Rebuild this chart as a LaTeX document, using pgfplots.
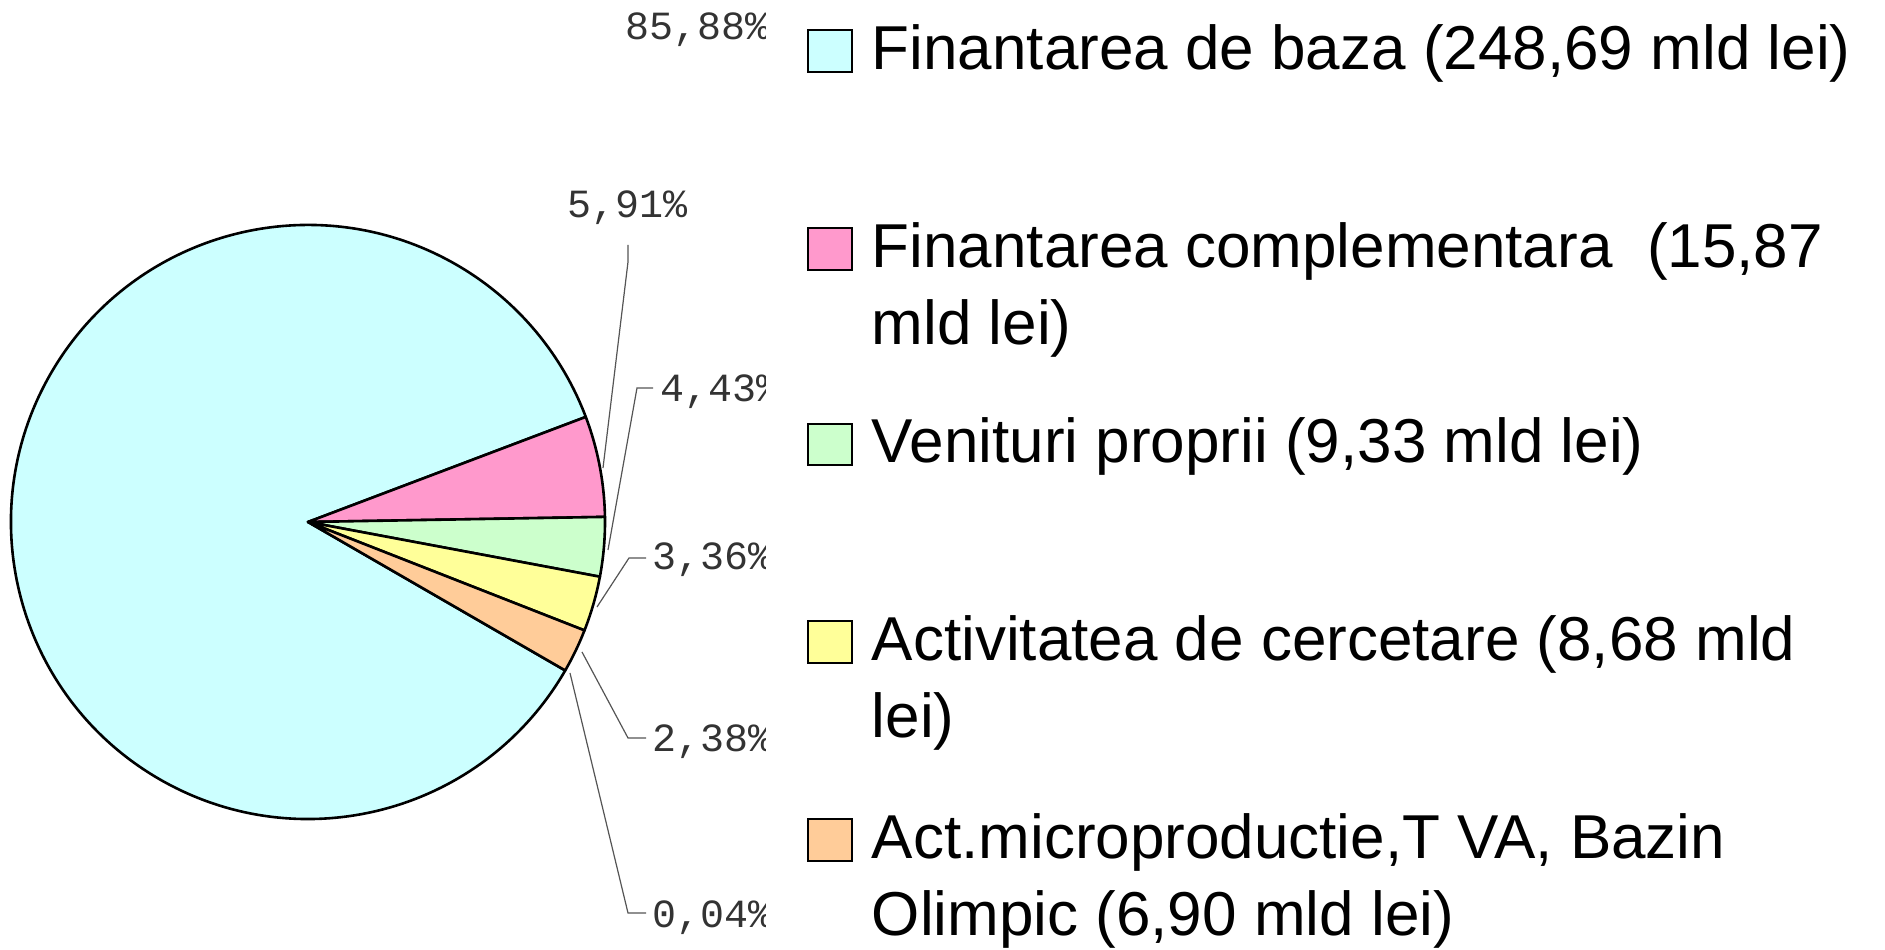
\documentclass[border=0pt]{standalone}
\usepackage{pgfplots}
\pgfplotsset{compat=1.18}
\usepackage{fontspec}
\setmainfont{Liberation Sans}
\newfontfamily\pctfont{Liberation Mono}
\definecolor{cBaza}{HTML}{CCFFFF}
\definecolor{cCompl}{HTML}{FF99CC}
\definecolor{cVen}{HTML}{CCFFCC}
\definecolor{cCerc}{HTML}{FFFF99}
\definecolor{cMicro}{HTML}{FFCC99}
\definecolor{lead}{HTML}{555555}
\definecolor{pct}{HTML}{333333}
\begin{document}
\begin{tikzpicture}
% values (mld lei)
\def\vA{248.69}\def\vB{15.87}\def\vC{9.33}\def\vD{8.68}\def\vE{6.90}
\pgfmathsetmacro\tot{\vA+\vB+\vC+\vD+\vE}
\pgfmathsetmacro\aA{-30}
\pgfmathsetmacro\aB{\aA-360*(\vA/\tot)}
\pgfmathsetmacro\aC{\aB-360*(\vB/\tot)}
\pgfmathsetmacro\aD{\aC-360*(\vC/\tot)}
\pgfmathsetmacro\aE{\aD-360*(\vD/\tot)}
\pgfmathsetmacro\aF{\aE-360*(\vE/\tot)}
\def\R{74.25pt}
\begin{axis}[
  width=471.25pt, height=237.5pt, scale only axis,
  xmin=0, xmax=1885, ymin=0, ymax=950,
  hide axis, clip=false]
\addplot[draw=none, forget plot] coordinates {(0,0) (1885,950)};
\tikzset{wedge/.style={draw=black, line width=0.65pt, line join=round, overlay}}
\filldraw[wedge, fill=cBaza] (axis cs:308,428) -- ++(\aA:\R) arc[start angle=\aA, end angle=\aB, radius=\R] -- cycle;
\filldraw[wedge, fill=cCompl] (axis cs:308,428) -- ++(\aB:\R) arc[start angle=\aB, end angle=\aC, radius=\R] -- cycle;
\filldraw[wedge, fill=cVen] (axis cs:308,428) -- ++(\aC:\R) arc[start angle=\aC, end angle=\aD, radius=\R] -- cycle;
\filldraw[wedge, fill=cCerc] (axis cs:308,428) -- ++(\aD:\R) arc[start angle=\aD, end angle=\aE, radius=\R] -- cycle;
\filldraw[wedge, fill=cMicro] (axis cs:308,428) -- ++(\aE:\R) arc[start angle=\aE, end angle=\aF, radius=\R] -- cycle;
% leader lines
\draw[lead, line width=0.3pt] (axis cs:628,705) -- (axis cs:628,688) -- (axis cs:603,482);
\draw[lead, line width=0.3pt] (axis cs:653,562) -- (axis cs:637,562) -- (axis cs:608,400);
\draw[lead, line width=0.3pt] (axis cs:646,392) -- (axis cs:629,392) -- (axis cs:597,343);
\draw[lead, line width=0.3pt] (axis cs:646,212) -- (axis cs:628,212) -- (axis cs:582,298);
\draw[lead, line width=0.3pt] (axis cs:646,37) -- (axis cs:628,37) -- (axis cs:570,277);
% percentage labels (clipped at right)
\begin{scope}
\clip (axis cs:0,0) rectangle (axis cs:765,950);
\node[pct, anchor=base west, inner sep=0, font=\pctfont\fontsize{10pt}{12pt}\selectfont] at (axis cs:625,910) {85,88\%};
\node[pct, anchor=base west, inner sep=0, font=\pctfont\fontsize{10pt}{12pt}\selectfont] at (axis cs:567,732) {5,91\%};
\node[pct, anchor=base west, inner sep=0, font=\pctfont\fontsize{10pt}{12pt}\selectfont] at (axis cs:660,548) {4,43\%};
\node[pct, anchor=base west, inner sep=0, font=\pctfont\fontsize{10pt}{12pt}\selectfont] at (axis cs:652,380) {3,36\%};
\node[pct, anchor=base west, inner sep=0, font=\pctfont\fontsize{10pt}{12pt}\selectfont] at (axis cs:652,198) {2,38\%};
\node[pct, anchor=base west, inner sep=0, font=\pctfont\fontsize{10pt}{12pt}\selectfont] at (axis cs:652,22) {0,04\%};
\end{scope}
% legend
\tikzset{lbox/.style={draw=black, line width=0.55pt}}
\filldraw[lbox, fill=cBaza] (axis cs:808,920) rectangle (axis cs:852,878);
\filldraw[lbox, fill=cCompl] (axis cs:808,722) rectangle (axis cs:852,680);
\filldraw[lbox, fill=cVen] (axis cs:808,526) rectangle (axis cs:852,485);
\filldraw[lbox, fill=cCerc] (axis cs:808,329) rectangle (axis cs:852,287);
\filldraw[lbox, fill=cMicro] (axis cs:808,131) rectangle (axis cs:852,89);
\tikzset{leg/.style={anchor=base west, inner sep=0, font=\fontsize{15.5pt}{19.25pt}\selectfont}}
\node[leg] at (axis cs:871,880) {Finantarea de baza (248,69 mld lei)};
\node[leg] at (axis cs:871,682) {Finantarea complementara\ \ (15,87};
\node[leg] at (axis cs:871,605) {mld lei)};
\node[leg] at (axis cs:871,487) {Venituri proprii (9,33 mld lei)};
\node[leg] at (axis cs:871,289) {Activitatea de cercetare (8,68 mld};
\node[leg] at (axis cs:871,212) {lei)};
\node[leg] at (axis cs:871,91) {Act.microproductie,T VA, Bazin};
\node[leg] at (axis cs:871,14) {Olimpic (6,90 mld lei)};
\end{axis}
\end{tikzpicture}
\end{document}
